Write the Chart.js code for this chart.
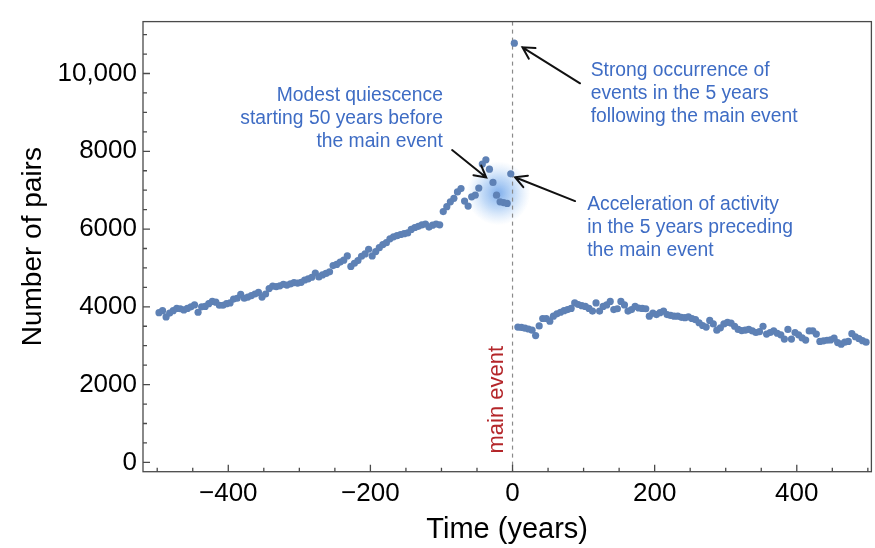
<!DOCTYPE html>
<html>
<head>
<meta charset="utf-8">
<script src="https://cdn.jsdelivr.net/npm/chart.js@4.4.0/dist/chart.umd.min.js"></script>
<style>
  html, body { margin: 0; padding: 0; background: #fff; }
  #chart { display: block; }
</style>
</head>
<body>
<canvas id="chart" width="875" height="548"></canvas>
<script>
// 5-year bins before and after the main event
const yearsBefore = [
  -497.5, -492.5, -487.5, -482.5, -477.5, -472.5, -467.5, -462.5, -457.5, -452.5,
  -447.5, -442.5, -437.5, -432.5, -427.5, -422.5, -417.5, -412.5, -407.5, -402.5,
  -397.5, -392.5, -387.5, -382.5, -377.5, -372.5, -367.5, -362.5, -357.5, -352.5,
  -347.5, -342.5, -337.5, -332.5, -327.5, -322.5, -317.5, -312.5, -307.5, -302.5,
  -297.5, -292.5, -287.5, -282.5, -277.5, -272.5, -267.5, -262.5, -257.5, -252.5,
  -247.5, -242.5, -237.5, -232.5, -227.5, -222.5, -217.5, -212.5, -207.5, -202.5,
  -197.5, -192.5, -187.5, -182.5, -177.5, -172.5, -167.5, -162.5, -157.5, -152.5,
  -147.5, -142.5, -137.5, -132.5, -127.5, -122.5, -117.5, -112.5, -107.5, -102.5,
  -97.5, -92.5, -87.5, -82.5, -77.5, -72.5, -67.5, -62.5, -57.5, -52.5,
  -47.5, -42.5, -37.5, -32.5, -27.5, -22.5, -17.5, -12.5, -7.5, -2.5
];
const pairsBefore = [
  3850, 3900, 3740, 3840, 3900, 3960, 3950, 3920, 3960, 4000,
  4050, 3860, 4000, 4010, 4080, 4140, 4120, 4040, 4040, 4080,
  4100, 4200, 4220, 4320, 4220, 4250, 4290, 4330, 4370, 4250,
  4330, 4470, 4530, 4520, 4540, 4580, 4560, 4590, 4620, 4610,
  4630, 4690, 4720, 4760, 4870, 4770, 4820, 4860, 4900, 5060,
  5090, 5150, 5200, 5310, 5040, 5120, 5190, 5300, 5360, 5480,
  5310, 5420, 5520, 5600, 5650, 5750, 5800, 5830, 5860, 5880,
  5900, 5990, 6040, 6070, 6110, 6130, 6050, 6100, 6130, 6110,
  6450, 6575, 6700, 6790, 6955, 7040, 6720, 6590, 6830, 6870,
  7055, 7670, 7780, 7540, 7200, 6870, 6700, 6680, 6660, 7420
];
const yearsAfter = [
  2.5, 7.5, 12.5, 17.5, 22.5, 27.5, 32.5, 37.5, 42.5, 47.5,
  52.5, 57.5, 62.5, 67.5, 72.5, 77.5, 82.5, 87.5, 92.5, 97.5,
  102.5, 107.5, 112.5, 117.5, 122.5, 127.5, 132.5, 137.5, 142.5, 147.5,
  152.5, 157.5, 162.5, 167.5, 172.5, 177.5, 182.5, 187.5, 192.5, 197.5,
  202.5, 207.5, 212.5, 217.5, 222.5, 227.5, 232.5, 237.5, 242.5, 247.5,
  252.5, 257.5, 262.5, 267.5, 272.5, 277.5, 282.5, 287.5, 292.5, 297.5,
  302.5, 307.5, 312.5, 317.5, 322.5, 327.5, 332.5, 337.5, 342.5, 347.5,
  352.5, 357.5, 362.5, 367.5, 372.5, 377.5, 382.5, 387.5, 392.5, 397.5,
  402.5, 407.5, 412.5, 417.5, 422.5, 427.5, 432.5, 437.5, 442.5, 447.5,
  452.5, 457.5, 462.5, 467.5, 472.5, 477.5, 482.5, 487.5, 492.5, 497.5
];
const pairsAfter = [
  10780, 3480, 3470, 3450, 3430, 3400, 3260, 3510, 3700, 3700,
  3630, 3760, 3820, 3860, 3900, 3930, 3960, 4100, 4060, 4030,
  4010, 3960, 3890, 4100, 3890, 4010, 4050, 4140, 3930, 3950,
  4140, 4050, 3890, 3930, 4010, 3970, 3960, 3950, 3760, 3840,
  3800, 3850, 3890, 3800, 3780, 3760, 3760, 3730, 3720, 3740,
  3700, 3670, 3590, 3520, 3480, 3650, 3560, 3400, 3460, 3560,
  3600, 3580, 3500, 3420, 3390, 3400, 3420, 3380, 3340, 3360,
  3500, 3300, 3340, 3380, 3320, 3280, 3170, 3420, 3170, 3340,
  3280, 3200, 3145, 3380, 3380, 3300, 3110, 3125, 3140, 3150,
  3195, 3080, 3040, 3090, 3110, 3310, 3230, 3180, 3130, 3090
];
const xTicks = [-400, -200, 0, 200, 400];
const xTickLabels = ['\u2212400', '\u2212200', '0', '200', '400'];
const yTicks = [0, 2000, 4000, 6000, 8000, 10000];
const yTickLabels = ['0', '2000', '4000', '6000', '8000', '10,000'];

const FONT = '"Liberation Sans", Arial, Helvetica, sans-serif';
const BLUE_TEXT = 'rgb(62, 108, 196)';
const DOT = 'rgb(94, 129, 181)';

// annotation anchors in data units
const notes = [
  { lines: ['Modest quiescence', 'starting 50 years before', 'the main event'], x: -98, y: 9420, align: 'right' },
  { lines: ['Strong occurrence of', 'events in the 5 years', 'following the main event'], x: 110, y: 10068, align: 'left' },
  { lines: ['Acceleration of activity', 'in the 5 years preceding', 'the main event'], x: 105, y: 6619, align: 'left' }
];
const arrows = [
  { from: [-85, 8032], to: [-37, 7325] },
  { from: [95, 9748], to: [14, 10674] },
  { from: [88, 6720], to: [3.5, 7333] }
];
const glow = { x: -20, y: 6921 };

const toPoints = (xs, ys) => xs.map((t, i) => ({ x: t, y: ys[i] }));

const overlay = {
  id: 'overlay',
  beforeDatasetsDraw(chart) {
    const { ctx, chartArea: a, scales: { x, y } } = chart;
    ctx.save();
    const gx = x.getPixelForValue(glow.x), gy = y.getPixelForValue(glow.y);
    const g = ctx.createRadialGradient(gx, gy, 0, gx, gy, 32);
    g.addColorStop(0, 'rgba(105, 160, 232, 0.85)');
    g.addColorStop(0.5, 'rgba(135, 183, 240, 0.5)');
    g.addColorStop(1, 'rgba(170, 205, 245, 0)');
    ctx.fillStyle = g;
    ctx.beginPath();
    ctx.arc(gx, gy, 32, 0, Math.PI * 2);
    ctx.fill();

    const x0 = x.getPixelForValue(0);
    ctx.strokeStyle = '#8a8a8a';
    ctx.lineWidth = 1.2;
    ctx.setLineDash([4, 4]);
    ctx.beginPath();
    ctx.moveTo(x0, a.top);
    ctx.lineTo(x0, a.bottom);
    ctx.stroke();
    ctx.setLineDash([]);

    ctx.translate(x.getPixelForValue(-22), y.getPixelForValue(1610));
    ctx.rotate(-Math.PI / 2);
    ctx.fillStyle = 'rgb(180, 38, 42)';
    ctx.font = '22px ' + FONT;
    ctx.textAlign = 'center';
    ctx.textBaseline = 'middle';
    ctx.fillText('main event', 0, 0);
    ctx.restore();
  },
  afterDatasetsDraw(chart) {
    const { ctx, chartArea: a, scales: { x, y } } = chart;
    ctx.save();
    // frame
    ctx.strokeStyle = '#4a4a4a';
    ctx.lineWidth = 1.3;
    ctx.strokeRect(a.left, a.top, a.right - a.left, a.bottom - a.top);
    // inward ticks
    ctx.beginPath();
    for (let v = -500; v <= 500; v += 50) {
      const px = x.getPixelForValue(v);
      const len = xTicks.includes(v) ? 7 : 4;
      ctx.moveTo(px, a.bottom);
      ctx.lineTo(px, a.bottom - len);
    }
    for (let v = 0; v <= 11000; v += 500) {
      const py = y.getPixelForValue(v);
      const len = yTicks.includes(v) ? 7 : 4;
      ctx.moveTo(a.left, py);
      ctx.lineTo(a.left + len, py);
    }
    ctx.stroke();

    // notes
    ctx.fillStyle = BLUE_TEXT;
    ctx.font = '19.3px ' + FONT;
    ctx.textBaseline = 'middle';
    notes.forEach(n => {
      ctx.textAlign = n.align;
      const nx = x.getPixelForValue(n.x), ny = y.getPixelForValue(n.y);
      n.lines.forEach((line, i) => ctx.fillText(line, nx, ny + i * 23));
    });

    // arrows
    ctx.strokeStyle = '#111';
    ctx.lineWidth = 2;
    ctx.lineCap = 'round';
    arrows.forEach(ar => {
      const x1 = x.getPixelForValue(ar.from[0]), y1 = y.getPixelForValue(ar.from[1]);
      const x2 = x.getPixelForValue(ar.to[0]), y2 = y.getPixelForValue(ar.to[1]);
      const ang = Math.atan2(y2 - y1, x2 - x1);
      const h = 13, spread = 0.5;
      ctx.beginPath();
      ctx.moveTo(x1, y1);
      ctx.lineTo(x2, y2);
      ctx.moveTo(x2 - h * Math.cos(ang - spread), y2 - h * Math.sin(ang - spread));
      ctx.lineTo(x2, y2);
      ctx.lineTo(x2 - h * Math.cos(ang + spread), y2 - h * Math.sin(ang + spread));
      ctx.stroke();
    });
    ctx.restore();
  }
};

const dotStyle = {
  backgroundColor: DOT,
  borderWidth: 0,
  pointRadius: 3.6,
  pointHoverRadius: 3.6
};

new Chart(document.getElementById('chart'), {
  type: 'scatter',
  data: {
    datasets: [
      { label: 'before', data: toPoints(yearsBefore, pairsBefore), ...dotStyle },
      { label: 'after', data: toPoints(yearsAfter, pairsAfter), ...dotStyle }
    ]
  },
  options: {
    responsive: false,
    animation: false,
    devicePixelRatio: 1,
    layout: { padding: { left: 0, top: 13, right: 3, bottom: 0 } },
    plugins: { legend: { display: false }, tooltip: { enabled: false } },
    scales: {
      x: {
        type: 'linear',
        min: -520,
        max: 505,
        grid: { display: false, drawTicks: false },
        border: { display: false },
        afterBuildTicks: s => { s.ticks = xTicks.map(v => ({ value: v })); },
        afterFit: s => { s.height = 76.3; },
        ticks: {
          autoSkip: false,
          maxRotation: 0,
          padding: 7,
          color: '#000',
          font: { family: FONT, size: 26 },
          callback: (v, i) => xTickLabels[i]
        },
        title: {
          display: true,
          text: 'Time (years)',
          color: '#000',
          font: { family: FONT, size: 29, lineHeight: 1 },
          padding: { top: 0, bottom: 3.5 }
        }
      },
      y: {
        type: 'linear',
        min: -240,
        max: 11335,
        grid: { display: false, drawTicks: false },
        border: { display: false },
        afterBuildTicks: s => { s.ticks = yTicks.map(v => ({ value: v })); },
        afterFit: s => { s.width = 143; },
        ticks: {
          autoSkip: false,
          padding: 6,
          color: '#000',
          font: { family: FONT, size: 26 },
          callback: (v, i) => yTickLabels[i]
        },
        title: {
          display: true,
          text: 'Number of pairs',
          color: '#000',
          font: { family: FONT, size: 28, lineHeight: 1 },
          padding: { top: 19, bottom: 0 }
        }
      }
    }
  },
  plugins: [overlay]
});
</script>
</body>
</html>
